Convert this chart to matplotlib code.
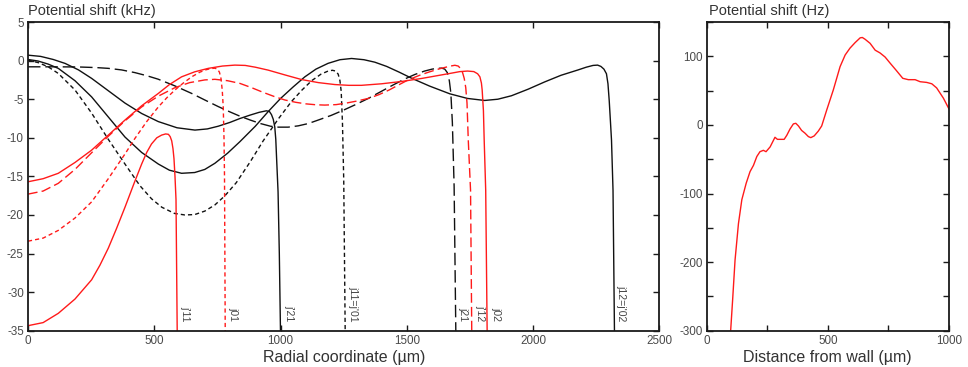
import matplotlib
matplotlib.use("Agg")
import matplotlib.pyplot as plt
from matplotlib.ticker import MultipleLocator

plt.rcParams['font.family'] = ['Liberation Sans', 'DejaVu Sans']
plt.rcParams['axes.unicode_minus'] = False

# ---- Left panel: potential shift (kHz) vs radial coordinate (um) ----
black_solid_1_x = [0, 50, 100, 147, 200, 252, 318, 384, 450, 516, 590, 661, 710, 753, 800, 839, 880, 915, 944,
                   956, 964, 971, 977, 981, 984, 990, 995, 1000]
black_solid_1_y = [0.71, 0.55, 0.15, -0.36, -1.2, -2.3, -3.9, -5.5, -6.85, -7.9, -8.7, -9.0, -8.85, -8.5, -8.0,
                   -7.5, -7.05, -6.7, -6.5, -6.6, -7.0, -7.6, -8.6, -10.2, -12.5, -17, -25, -36]

black_solid_2_x = [0, 40, 80, 120, 186, 252, 318, 384, 450, 516, 560, 608, 660, 700, 740, 790, 839, 900, 951, 1000,
                   1050, 1096, 1140, 1188, 1235, 1281, 1330, 1373, 1420, 1470, 1520, 1590, 1670, 1740, 1808, 1860,
                   1914, 1980, 2046, 2110, 2178, 2210, 2237, 2255, 2268, 2280, 2290, 2296, 2301, 2306, 2310, 2316, 2322]
black_solid_2_y = [0.15, -0.05, -0.45, -1.0, -2.6, -4.7, -7.3, -9.9, -11.9, -13.4, -14.2, -14.6, -14.5, -14.1,
                   -13.3, -12.0, -10.5, -8.5, -6.6, -4.9, -3.4, -2.1, -1.1, -0.35, 0.12, 0.28, 0.12, -0.2, -0.75,
                   -1.5, -2.3, -3.3, -4.3, -4.9, -5.16, -5.0, -4.55, -3.7, -2.75, -1.9, -1.2, -0.85, -0.62, -0.58,
                   -0.75, -1.1, -1.7, -3.0, -5.2, -8.0, -10.3, -16.8, -36]

black_short_x = [0, 40, 80, 120, 186, 252, 318, 384, 443, 489, 530, 580, 621, 660, 700, 740, 780, 825, 880, 931,
                 990, 1043, 1085, 1123, 1160, 1188, 1205, 1218, 1228, 1235, 1240, 1245, 1250, 1256]
black_short_y = [0.06, -0.25, -0.8, -1.66, -3.8, -6.8, -10.2, -13.4, -16.2, -17.9, -19.0, -19.8, -20.0, -19.95,
                 -19.5, -18.7, -17.5, -15.8, -13.1, -10.4, -7.6, -5.3, -3.8, -2.6, -1.75, -1.35, -1.25, -1.35,
                 -1.75, -2.6, -4.0, -8.1, -15.5, -36]

black_long_x = [0, 100, 200, 270, 318, 370, 423, 470, 515, 580, 648, 700, 753, 800, 839, 880, 920, 960, 991, 1030,
                1070, 1110, 1149, 1200, 1250, 1300, 1347, 1395, 1440, 1490, 1531, 1570, 1600, 1620, 1638, 1650,
                1660, 1668, 1674, 1680, 1687, 1694]
black_long_y = [-0.8, -0.8, -0.82, -0.9, -1.0, -1.2, -1.55, -1.95, -2.4, -3.25, -4.25, -5.1, -5.95, -6.65, -7.2,
                -7.7, -8.15, -8.5, -8.62, -8.62, -8.45, -8.15, -7.7, -7.1, -6.4, -5.65, -4.9, -4.05, -3.25, -2.4,
                -1.8, -1.35, -1.1, -1.0, -0.97, -1.1, -1.55, -2.6, -4.2, -8.0, -16.3, -36]

red_solid_1_x = [0, 60, 120, 186, 252, 285, 318, 350, 384, 420, 450, 470, 489, 510, 529, 545, 556, 563, 569, 574,
                 578, 582, 586, 591]
red_solid_1_y = [-34.35, -33.95, -32.75, -30.9, -28.4, -26.5, -24.3, -21.8, -19.0, -15.9, -13.4, -11.9, -10.8,
                 -10.0, -9.65, -9.5, -9.55, -9.85, -10.4, -11.4, -12.7, -15.0, -18.0, -36]

red_short_x = [0, 60, 120, 186, 252, 318, 384, 423, 470, 516, 550, 582, 615, 648, 680, 705, 725, 740, 750, 758,
               764, 769, 773, 776, 778, 781]
red_short_y = [-23.4, -23.0, -22.0, -20.4, -18.3, -15.3, -12.1, -10.1, -7.9, -6.0, -4.8, -3.8, -2.9, -2.1, -1.5,
               -1.18, -1.02, -0.98, -1.1, -1.5, -2.3, -3.8, -6.0, -10.0, -15.0, -36]

red_long_x = [0, 60, 120, 186, 250, 318, 384, 450, 516, 582, 640, 700, 740, 790, 839, 885, 930, 975, 1017, 1060,
              1100, 1140, 1175, 1220, 1260, 1300, 1347, 1390, 1430, 1470, 1505, 1550, 1590, 1630, 1670, 1690,
              1703, 1712, 1720, 1727, 1733, 1738, 1743, 1752, 1757]
red_long_y = [-17.3, -16.9, -15.9, -14.1, -12.0, -9.8, -7.8, -6.0, -4.6, -3.5, -2.85, -2.5, -2.42, -2.6, -2.95,
              -3.5, -4.1, -4.65, -5.1, -5.4, -5.6, -5.72, -5.76, -5.7, -5.5, -5.25, -4.9, -4.4, -3.8, -3.1, -2.5,
              -1.9, -1.45, -1.05, -0.72, -0.6, -0.7, -1.0, -1.5, -2.3, -3.5, -5.5, -10.3, -16.8, -36]

red_solid_2_x = [0, 60, 120, 186, 252, 318, 384, 450, 516, 560, 608, 660, 714, 770, 819, 860, 900, 951, 1017,
                 1083, 1150, 1215, 1270, 1320, 1400, 1479, 1560, 1620, 1670, 1710, 1740, 1765, 1780, 1789, 1795,
                 1798, 1803, 1806, 1812, 1818]
red_solid_2_y = [-15.7, -15.3, -14.6, -13.2, -11.6, -9.65, -7.7, -5.85, -4.25, -3.1, -2.1, -1.45, -1.0, -0.7,
                 -0.58, -0.62, -0.85, -1.23, -1.85, -2.45, -2.85, -3.1, -3.2, -3.2, -3.0, -2.7, -2.3, -1.95,
                 -1.66, -1.42, -1.35, -1.42, -1.7, -2.1, -2.9, -3.8, -6.5, -10.3, -16.8, -36]

# Bessel-zero wall positions and their labels
wall_x = [590, 780, 1000, 1254, 1690, 1756, 1818, 2316]
wall_labels = ["j'11", "j01", "j'21", "j11=j'01", "j21", "j'12", "j02", "j12=j'02"]

# ---- Right panel: potential shift (Hz) vs distance from wall (um) ----
wall_dist_x = [99, 107, 117, 131, 145, 163, 179, 193, 207, 220, 234, 245, 262, 282, 292, 303, 320, 331, 344, 358,
               368, 379, 392, 406, 420, 430, 444, 461, 475, 496, 523, 551, 572, 592, 613, 634, 643, 654, 675, 696,
               716, 737, 758, 782, 810, 833, 861, 882, 909, 930, 950, 978, 1000]
wall_shift_y = [-299, -255, -197, -144, -109, -85, -68, -59, -46, -39, -37, -39, -32, -18, -21, -21, -21, -15, -6,
                1.5, 2.4, -1.5, -8, -12, -17, -18.5, -16, -9, -1.5, 22, 51, 85, 102, 112, 120, 127, 127.5, 125, 119,
                109, 105, 99, 90, 80, 68, 66, 66, 63, 62, 60, 54, 39, 24]

RED = '#ff1a1a'
BLACK = '#111111'
TICK_COLOR = '#4a4a4a'
TEXT_COLOR = '#333333'

fig = plt.figure(figsize=(9.68, 3.67), dpi=100)
ax1 = fig.add_axes([0.0289, 0.0989, 0.6524, 0.841])
ax2 = fig.add_axes([0.7301, 0.0989, 0.25, 0.841])

lw = 1.0
ax1.plot(black_long_x, black_long_y, color=BLACK, lw=lw, linestyle=(0, (9, 3.5)))
ax1.plot(black_short_x, black_short_y, color=BLACK, lw=lw, linestyle=(0, (3, 2.2)))
ax1.plot(black_solid_1_x, black_solid_1_y, color=BLACK, lw=lw)
ax1.plot(black_solid_2_x, black_solid_2_y, color=BLACK, lw=lw)
ax1.plot(red_long_x, red_long_y, color=RED, lw=lw, linestyle=(0, (7, 3)))
ax1.plot(red_short_x, red_short_y, color=RED, lw=lw, linestyle=(0, (3, 2.2)))
ax1.plot(red_solid_1_x, red_solid_1_y, color=RED, lw=lw)
ax1.plot(red_solid_2_x, red_solid_2_y, color=RED, lw=lw)

for xw, lab in zip(wall_x, wall_labels):
    ax1.text(xw + 14, -33.8, lab, rotation=270, ha='left', va='bottom',
             fontsize=7.6, color='#444444')

ax1.set_xlim(0, 2500)
ax1.set_ylim(-35, 5)
ax1.xaxis.set_major_locator(MultipleLocator(500))
ax1.yaxis.set_major_locator(MultipleLocator(5))
ax1.text(0.0, 1.012, 'Potential shift (kHz)', transform=ax1.transAxes, ha='left', va='bottom',
         fontsize=10.5, color=TEXT_COLOR)
ax1.set_xlabel('Radial coordinate (µm)', fontsize=11.5, color=TEXT_COLOR, labelpad=2)

ax2.plot(wall_dist_x, wall_shift_y, color=RED, lw=lw)
ax2.set_xlim(0, 1000)
ax2.set_ylim(-300, 150)
ax2.xaxis.set_major_locator(MultipleLocator(500))
ax2.xaxis.set_minor_locator(MultipleLocator(250))
ax2.yaxis.set_major_locator(MultipleLocator(100))
ax2.yaxis.set_minor_locator(MultipleLocator(50))
ax2.text(0.01, 1.012, 'Potential shift (Hz)', transform=ax2.transAxes, ha='left', va='bottom',
         fontsize=10.5, color=TEXT_COLOR)
ax2.set_xlabel('Distance from wall (µm)', fontsize=11.5, color=TEXT_COLOR, labelpad=2)

for ax in (ax1, ax2):
    for sp in ax.spines.values():
        sp.set_color('#1a1a1a')
        sp.set_linewidth(1.3)
    ax.tick_params(which='both', direction='in', top=True, right=True, length=4, width=1.0,
                   color='#1a1a1a', labelcolor=TICK_COLOR, labelsize=8.4, pad=3)

fig.savefig('out.png', dpi=100)
